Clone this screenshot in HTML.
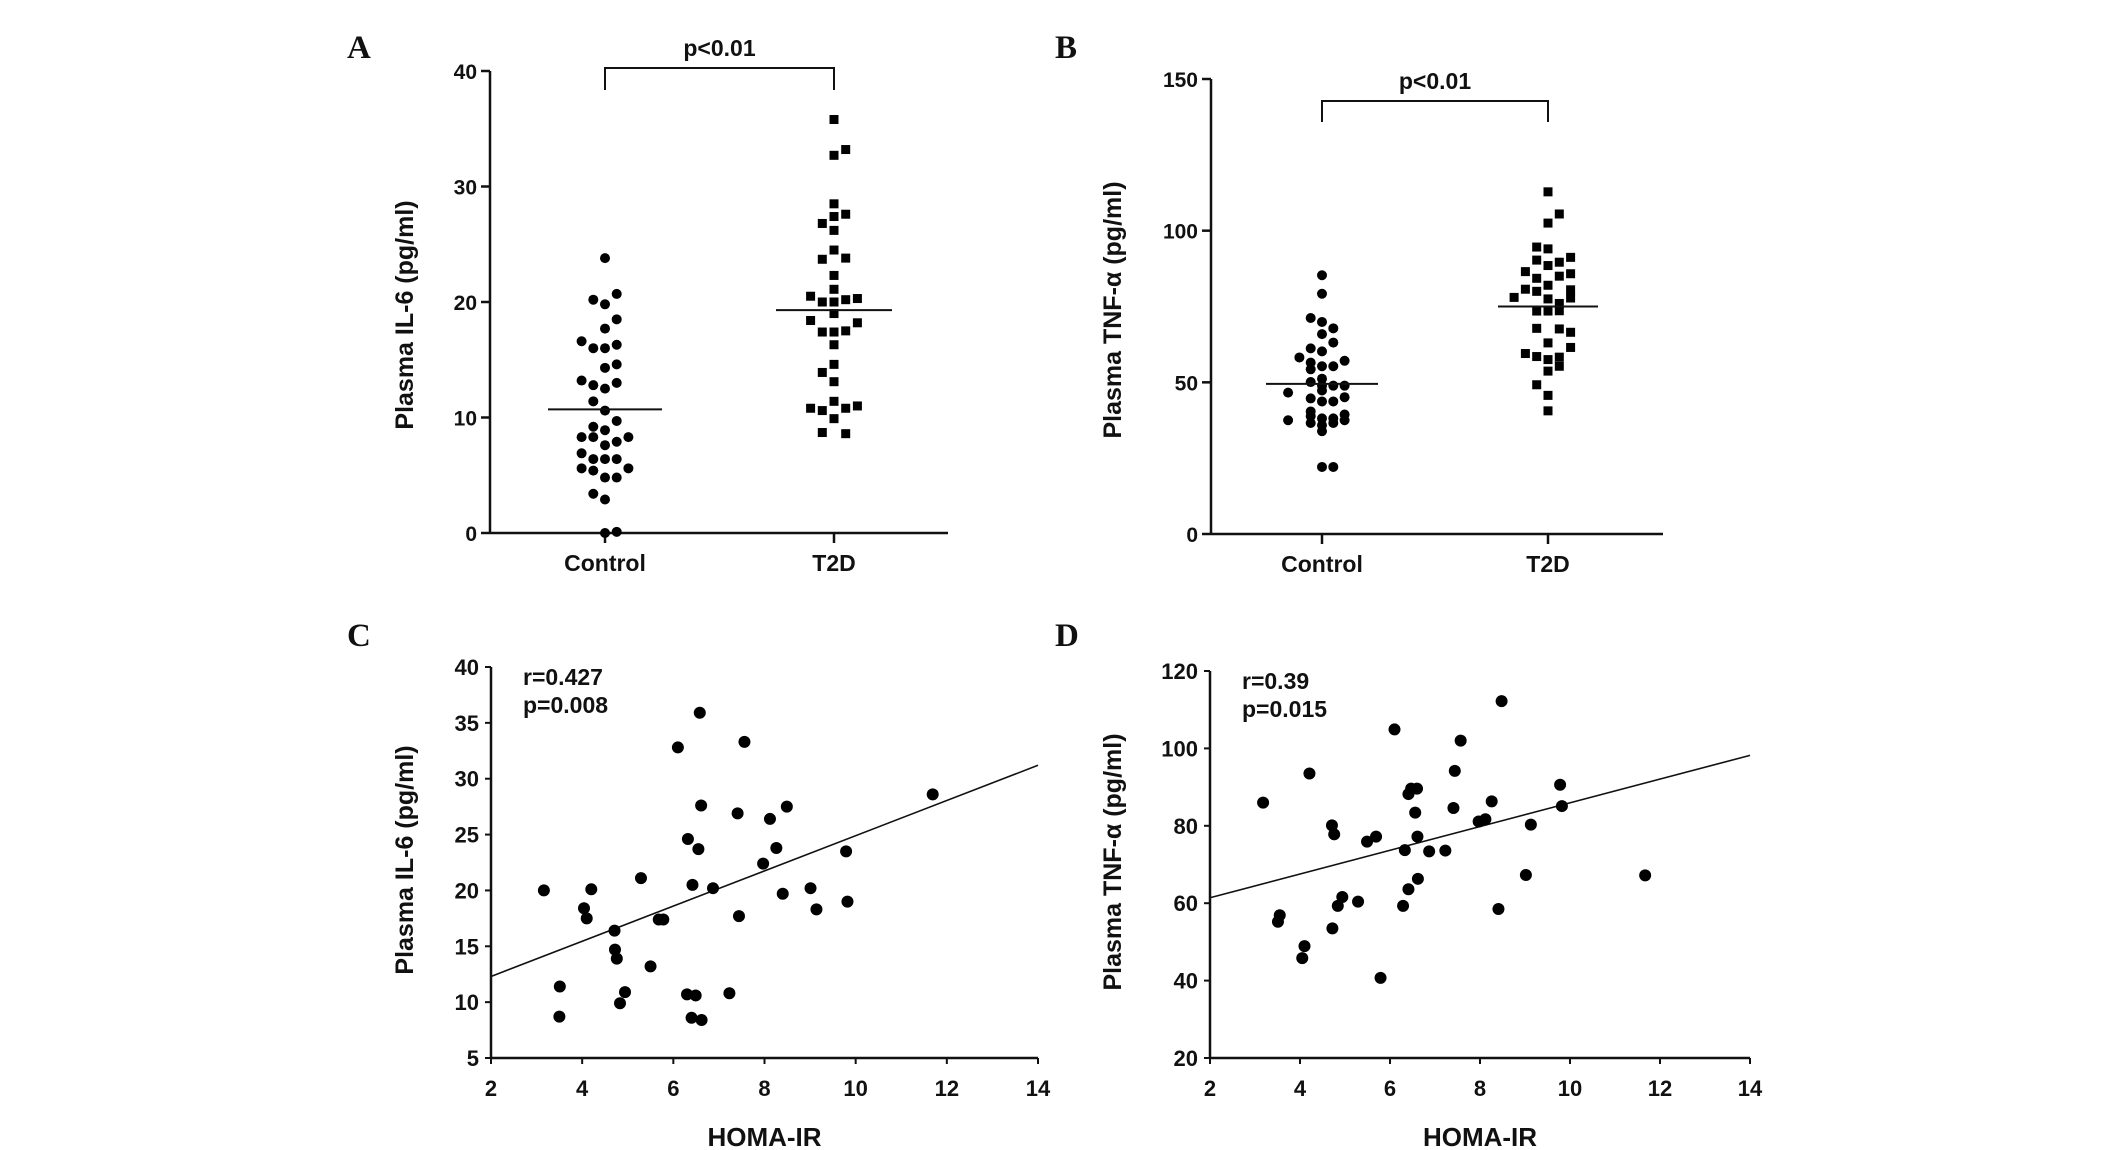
<!DOCTYPE html>
<html><head><meta charset="utf-8"><style>
html,body{margin:0;padding:0;background:#fff;}
svg{display:block;font-family:"Liberation Sans",Arial,sans-serif;}
.tk{font-size:21px;font-weight:bold;fill:#111;}
.tt{font-size:25px;font-weight:bold;fill:#111;}
.pl{font-family:"Liberation Serif",serif;font-size:33px;font-weight:bold;fill:#111;}
</style></head><body>
<svg id="fig" width="2126" height="1150" viewBox="0 0 2126 1150" xmlns="http://www.w3.org/2000/svg"></svg>
<script>
// ---- Panel A data (IL-6) ----
const aControl=[23.8,20.7,20.2,19.8,18.5,17.7,16.6,16.3,16.0,16.0,14.6,14.3,13.2,13.0,12.8,12.5,11.4,10.6,9.7,9.2,8.9,8.3,8.3,8.3,7.9,7.6,6.9,6.4,6.4,6.4,5.6,5.6,5.4,4.8,4.8,3.4,2.9,0,0.1];
const aControlCol=[0,1,-1,0,1,0,-2,1,-1,0,1,0,-2,1,-1,0,-1,0,1,-1,0,-2,-1,2,1,0,-2,-1,0,1,-2,2,-1,0,1,-1,0,0,1];
const aT2D=[35.8,33.2,32.7,28.5,27.6,27.4,26.8,26.2,24.5,23.7,23.8,22.3,21.1,20.5,20.0,20.0,20.2,20.3,19.0,18.4,18.2,17.4,17.4,17.5,16.3,14.6,13.9,13.1,11.4,10.8,10.6,10.8,11.0,9.9,8.7,8.6];
const aT2DCol=[0,1,0,0,1,0,-1,0,0,-1,1,0,0,-2,-1,0,1,2,0,-2,2,-1,0,1,0,0,-1,0,0,-2,-1,1,2,0,-1,1];
const aMeans=[10.7,19.3];
const aTicks=[0,10,20,30,40];
// ---- Panel B data (TNF-a) ----
const bControl=[85.3,79.2,71.2,69.9,67.8,65.9,63.1,61.2,60.2,58.2,57.1,56.5,55.3,55.3,54.3,51.2,50.1,48.9,48.9,48.9,47.3,46.6,45.1,44.7,43.7,43.7,40.4,39.4,38.8,38.1,38.1,37.5,37.5,36.6,36.6,35.9,33.9,22.1,22.1];
const bControlCol=[0,0,-1,0,1,0,1,-1,0,-2,2,-1,0,1,-1,0,-1,2,1,0,0,-3,2,-1,0,1,-1,2,-1,0,1,-3,2,-1,1,0,0,0,1];
const bT2D=[112.8,105.5,102.5,94.6,94.0,91.2,90.3,89.6,88.5,86.5,85.8,84.3,85,82.0,80.7,80.5,80.0,78.0,77.8,77.5,76.0,73.5,73.5,73.6,67.8,67.6,66.5,63.0,61.5,59.5,58.5,58.3,57.5,55.3,53.7,49.2,45.7,40.6];
const bT2DCol=[0,1,0,-1,0,2,-1,1,0,-2,2,-1,1,0,-2,2,-1,-3,2,0,1,0,-1,1,-1,1,2,0,2,-2,-1,1,0,1,0,-1,0,0];
const bMeans=[49.5,75.0];
const bTicks=[0,50,100,150];
const groups=["Control","T2D"];
// ---- Panel C data ----
const cX=[3.16,4.04,4.10,4.20,3.51,3.50,4.71,4.72,4.76,4.83,4.94,5.29,5.50,5.68,5.78,6.10,6.32,6.30,6.42,6.49,6.40,6.55,6.58,6.61,6.62,6.87,7.23,7.41,7.44,7.56,7.97,8.12,8.26,8.40,8.49,9.01,9.14,9.79,9.82,11.69];
const cY=[20.0,18.4,17.5,20.1,11.4,8.7,16.4,14.7,13.9,9.9,10.9,21.1,13.2,17.4,17.4,32.8,24.6,10.7,20.5,10.6,8.6,23.7,35.9,27.6,8.4,20.2,10.8,26.9,17.7,33.3,22.4,26.4,23.8,19.7,27.5,20.2,18.3,23.5,19.0,28.6];
const cFit=[12.3,31.2];
const cYTicks=[5,10,15,20,25,30,35,40];
// ---- Panel D data ----
const dX=[3.18,3.51,3.55,4.05,4.10,4.21,4.71,4.76,4.72,4.84,4.94,5.29,5.49,5.69,5.79,6.10,6.29,6.33,6.41,6.47,6.60,6.41,6.56,6.61,6.62,6.87,7.23,7.41,7.44,7.57,7.97,8.12,8.26,8.41,8.48,9.02,9.13,9.78,9.82,11.67];
const dY=[86.0,55.2,56.9,45.8,48.9,93.5,80.1,77.8,53.5,59.3,61.6,60.4,75.9,77.2,40.7,104.9,59.3,73.7,88.2,89.6,89.6,63.6,83.4,77.2,66.3,73.4,73.6,84.6,94.2,102.0,81.1,81.7,86.3,58.5,112.2,67.3,80.3,90.6,85.1,67.2];
const dFit=[61.4,98.2];
const dYTicks=[20,40,60,80,100,120];
const xTicks=[2,4,6,8,10,12,14];

const NS="http://www.w3.org/2000/svg";
const svg=document.getElementById('fig');
function mk(tag,attrs,parent,text){const e=document.createElementNS(NS,tag);for(const k in attrs)e.setAttribute(k,attrs[k]);if(text!==undefined)e.textContent=text;(parent||svg).appendChild(e);return e;}
function lin(d0,d1,r0,r1){return v=>r0+(v-d0)*(r1-r0)/(d1-d0);}

function dotPlot(p){
  const g=mk('g',{});
  
  
  const y=lin(p.ymin,p.ymax,p.y0,p.y1);
  const ax=mk('line',{x1:p.ax,y1:p.y1,x2:p.ax,y2:p.y0+1,stroke:'#111','stroke-width':2.5},g);
  
  
  const xa=mk('line',{x1:p.ax,y1:p.y0,x2:p.xend,y2:p.y0,stroke:'#111','stroke-width':2.5},g);
  
  
  p.ticks.forEach(t=>{
    const l=mk('line',{x1:p.ax-9,y1:y(t),x2:p.ax,y2:y(t),stroke:'#111','stroke-width':2.5},g);
    
    
    const tx=mk('text',{x:p.ax-13,y:y(t)+8,'text-anchor':'end',class:'tk'},g,String(t));
    
    
  });
  groups.forEach((gname,i)=>{
    const cx=p.cx[i];
    const l=mk('line',{x1:cx,y1:p.y0,x2:cx,y2:p.y0+10,stroke:'#111','stroke-width':2.5},g);
    
    
    const tx=mk('text',{x:cx,y:p.y0+38,'text-anchor':'middle',class:'tk',style:'font-size:23px'},g,gname);
    
    
  });
  p.ctrl.forEach((v,i)=>{
    const c=mk('circle',{cx:p.cx[0]+p.ctrlCol[i]*p.sp,cy:y(v),r:5,fill:'#000'},g);
    
    
  });
  p.t2d.forEach((v,i)=>{
    const s=mk('rect',{x:p.cx[1]+p.t2dCol[i]*p.sp-4.5,y:y(v)-4.5,width:9,height:9,fill:'#000'},g);
    
    
  });
  p.means.forEach((m,i)=>{
    const l=mk('line',{x1:p.cx[i]-p.mw[i],y1:y(m),x2:p.cx[i]+p.mw[i],y2:y(m),stroke:'#111','stroke-width':2},g);
    
    
  });
  const br=mk('path',{d:`M${p.cx[0]},${p.bb} V${p.bt} H${p.cx[1]} V${p.bb}`,fill:'none',stroke:'#111','stroke-width':2},g);
  
  
  const pt=mk('text',{x:(p.cx[0]+p.cx[1])/2,y:p.bt-12,'text-anchor':'middle',class:'tk',style:'font-size:23px'},g,'p<0.01');
  
  
  const yt=mk('text',{x:0,y:0,'text-anchor':'middle',class:'tt',transform:`translate(${p.tx},${p.ty}) rotate(-90)`},g,p.title);
  
  
  const pl=mk('text',{x:p.lx,y:p.ly,class:'pl'},g,p.letter);
  
  
}

function scatter(p){
  const g=mk('g',{});
  
  
  const x=lin(2,14,p.x0,p.x1), y=lin(p.yt[0],p.yt[p.yt.length-1],p.y0,p.y1);
  const ax=mk('line',{x1:p.x0,y1:p.y1,x2:p.x0,y2:p.y0+1,stroke:'#111','stroke-width':2.5},g);
  
  
  const xa=mk('line',{x1:p.x0,y1:p.y0,x2:p.x1,y2:p.y0,stroke:'#111','stroke-width':2.5},g);
  
  
  p.yt.forEach(t=>{
    const l=mk('line',{x1:p.x0-6,y1:y(t),x2:p.x0,y2:y(t),stroke:'#111','stroke-width':2},g);
    
    
    const tx=mk('text',{x:p.x0-12,y:y(t)+8,'text-anchor':'end',class:'tk',style:'font-size:22px'},g,String(t));
    
    
  });
  xTicks.forEach(t=>{
    const l=mk('line',{x1:x(t),y1:p.y0,x2:x(t),y2:p.y0+6,stroke:'#111','stroke-width':2},g);
    
    
    const tx=mk('text',{x:x(t),y:p.y0+38,'text-anchor':'middle',class:'tk',style:'font-size:22px'},g,String(t));
    
    
  });
  const fl=mk('line',{x1:x(2),y1:y(p.fit[0]),x2:x(14),y2:y(p.fit[1]),stroke:'#111','stroke-width':1.6},g);
  
  
  p.xs.forEach((v,i)=>{
    const c=mk('circle',{cx:x(v),cy:y(p.ys[i]),r:6,fill:'#000'},g);
    
    
  });
  const r1=mk('text',{x:p.x0+32,y:p.y1+18,class:'tk',style:'font-size:23px'},g,p.r);
  
  
  const r2=mk('text',{x:p.x0+32,y:p.y1+46,class:'tk',style:'font-size:23px'},g,p.pv);
  
  
  const xt=mk('text',{x:(p.x0+p.x1)/2,y:p.y0+88,'text-anchor':'middle',class:'tt',style:'font-size:26px'},g,'HOMA-IR');
  
  
  const yt=mk('text',{x:0,y:0,'text-anchor':'middle',class:'tt',transform:`translate(${p.tx},${p.ty}) rotate(-90)`},g,p.title);
  
  
  const pl=mk('text',{x:p.lx,y:p.ly,class:'pl'},g,p.letter);
  
  
}

dotPlot({name:'panel-a-il6',ax:490,xend:948,y0:533,y1:71,ymin:0,ymax:40,ticks:aTicks,cx:[605,834],sp:11.7,
  ctrl:aControl,ctrlCol:aControlCol,t2d:aT2D,t2dCol:aT2DCol,means:aMeans,mw:[57,58],bt:68,bb:90,
  title:'Plasma IL-6 (pg/ml)',tx:413,ty:315,letter:'A',lx:347,ly:58});
dotPlot({name:'panel-b-tnf',ax:1211,xend:1663,y0:534,y1:79,ymin:0,ymax:150,ticks:bTicks,cx:[1322,1548],sp:11.3,
  ctrl:bControl,ctrlCol:bControlCol,t2d:bT2D,t2dCol:bT2DCol,means:bMeans,mw:[56,50],bt:101,bb:122,
  title:'Plasma TNF-α  (pg/ml)',tx:1121,ty:310,letter:'B',lx:1055,ly:58});
scatter({name:'panel-c-il6-homa',x0:491,x1:1038,y0:1058,y1:667,yt:cYTicks,fit:cFit,xs:cX,ys:cY,r:'r=0.427',pv:'p=0.008',
  title:'Plasma IL-6 (pg/ml)',tx:413,ty:860,letter:'C',lx:347,ly:646});
scatter({name:'panel-d-tnf-homa',x0:1210,x1:1750,y0:1058,y1:671,yt:dYTicks,fit:dFit,xs:dX,ys:dY,r:'r=0.39',pv:'p=0.015',
  title:'Plasma TNF-α  (pg/ml)',tx:1121,ty:862,letter:'D',lx:1055,ly:646});
</script>
</body></html>
